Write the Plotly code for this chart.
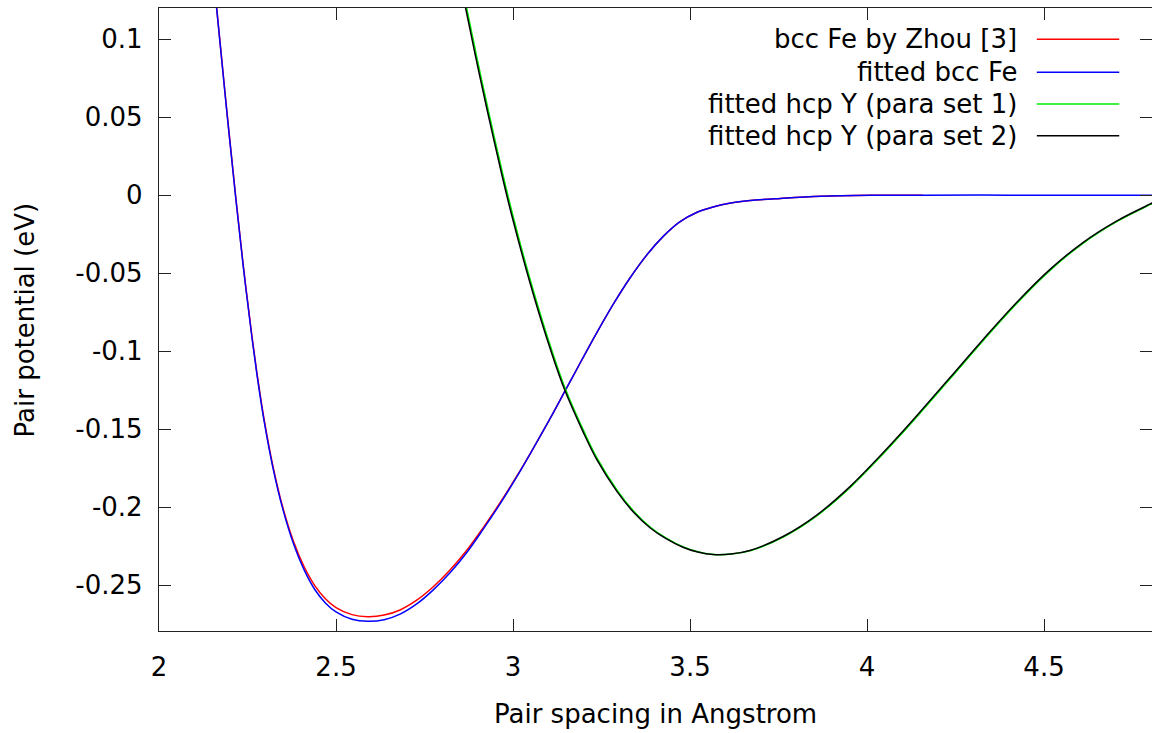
import plotly.graph_objects as go

# ---- data ----
bcc_zhou_x = [2.161, 2.189, 2.217, 2.240, 2.263, 2.280, 2.297, 2.322, 2.350, 2.380,
              2.410, 2.441, 2.470, 2.500, 2.545, 2.590, 2.636, 2.681, 2.729, 2.774,
              2.822, 2.870, 2.915, 2.963, 3.011, 3.056, 3.105, 3.150, 3.195, 3.240,
              3.285, 3.330, 3.380, 3.425, 3.470, 3.520, 3.565, 3.615, 3.685, 3.755,
              3.870, 4.010, 4.158]
bcc_zhou_y = [0.1243, 0.0599, -0.0017, -0.0488, -0.0913, -0.1193, -0.1439, -0.1739, -0.2005, -0.2221,
              -0.2383, -0.2507, -0.2588, -0.2645, -0.2690, -0.2703, -0.2693, -0.2660, -0.2596, -0.2513,
              -0.2404, -0.2276, -0.2135, -0.1974, -0.1801, -0.1628, -0.1432, -0.1243, -0.1054, -0.0869,
              -0.0693, -0.0533, -0.0378, -0.0263, -0.0173, -0.0110, -0.0076, -0.0051, -0.0032, -0.0021,
              -0.0007, -0.0001, 0.0000]

bcc_fit_x = [2.161, 2.189, 2.217, 2.240, 2.263, 2.280, 2.297, 2.322, 2.350, 2.380,
             2.410, 2.441, 2.470, 2.500, 2.545, 2.590, 2.636, 2.681, 2.729, 2.774,
             2.822, 2.870, 2.915, 2.963, 3.011, 3.056, 3.105, 3.150, 3.195, 3.240,
             3.285, 3.330, 3.380, 3.425, 3.470, 3.520, 3.565, 3.615, 3.685, 3.755,
             3.870, 4.010, 4.158, 4.400, 4.650, 4.810]
bcc_fit_y = [0.1240, 0.0594, -0.0023, -0.0495, -0.0921, -0.1202, -0.1449, -0.1750, -0.2015, -0.2236,
             -0.2403, -0.2532, -0.2615, -0.2673, -0.2720, -0.2733, -0.2723, -0.2687, -0.2620, -0.2533,
             -0.2422, -0.2290, -0.2145, -0.1981, -0.1805, -0.1629, -0.1432, -0.1243, -0.1054, -0.0869,
             -0.0693, -0.0533, -0.0378, -0.0263, -0.0173, -0.0110, -0.0076, -0.0051, -0.0032, -0.0021,
             -0.0007, -0.0001, 0.0000, 0.0000, 0.0000, 0.0000]

hcp_set1_x = [2.867, 2.898, 2.930, 2.972, 3.000, 3.051, 3.098, 3.147, 3.201, 3.239,
              3.296, 3.343, 3.390, 3.433, 3.483, 3.525, 3.568, 3.618, 3.672, 3.766,
              3.862, 3.955, 4.031, 4.096, 4.144, 4.237, 4.331, 4.427, 4.520, 4.613,
              4.709, 4.802, 4.813]
hcp_set1_y = [0.1223, 0.0882, 0.0546, 0.0126, -0.0134, -0.0562, -0.0914, -0.1237, -0.1518, -0.1693,
              -0.1898, -0.2032, -0.2133, -0.2200, -0.2258, -0.2289, -0.2305, -0.2302, -0.2279, -0.2189,
              -0.2050, -0.1869, -0.1694, -0.1535, -0.1413, -0.1171, -0.0925, -0.0685, -0.0476, -0.0304,
              -0.0165, -0.0058, -0.0046]

hcp_set2_x = [2.864, 2.895, 2.927, 2.969, 2.997, 3.048, 3.095, 3.144, 3.198, 3.236,
              3.293, 3.340, 3.387, 3.430, 3.480, 3.522, 3.565, 3.615, 3.669, 3.763,
              3.859, 3.952, 4.028, 4.093, 4.141, 4.234, 4.328, 4.424, 4.517, 4.610,
              4.706, 4.799, 4.810]
hcp_set2_y = [0.1223, 0.0882, 0.0546, 0.0126, -0.0134, -0.0562, -0.0914, -0.1237, -0.1518, -0.1693,
              -0.1898, -0.2032, -0.2133, -0.2200, -0.2258, -0.2289, -0.2305, -0.2302, -0.2279, -0.2189,
              -0.2050, -0.1869, -0.1694, -0.1535, -0.1413, -0.1171, -0.0925, -0.0685, -0.0476, -0.0304,
              -0.0165, -0.0058, -0.0046]

series_names = ["bcc Fe by Zhou [3]", "fitted bcc Fe",
                "fitted hcp Y (para set 1)", "fitted hcp Y (para set 2)"]
series_colors = ["#ff0000", "#0000ff", "#00ee00", "#000000"]

x_tick_vals = [2, 2.5, 3, 3.5, 4, 4.5]
x_tick_text = ["2", "2.5", "3", "3.5", "4", "4.5"]
y_tick_vals = [0.1, 0.05, 0, -0.05, -0.1, -0.15, -0.2, -0.25]
y_tick_text = ["0.1", "0.05", "0", "-0.05", "-0.1", "-0.15", "-0.2", "-0.25"]

x_title = "Pair spacing in Angstrom"
y_title = "Pair potential (eV)"

FONT = "DejaVu Sans"
FS = 26

fig = go.Figure()
all_x = [bcc_zhou_x, bcc_fit_x, hcp_set1_x, hcp_set2_x]
all_y = [bcc_zhou_y, bcc_fit_y, hcp_set1_y, hcp_set2_y]
for xs, ys, name, col in zip(all_x, all_y, series_names, series_colors):
    fig.add_trace(go.Scatter(x=xs, y=ys, mode="lines", name=name,
                             line=dict(color=col, width=1.5, shape="spline", smoothing=1.0),
                             showlegend=False))

# manual legend (gnuplot style: text left, sample line right)
leg_y = [0.950, 0.897, 0.846, 0.795]
for name, col, ly in zip(series_names, series_colors, leg_y):
    fig.add_annotation(x=0.866, y=ly, xref="paper", yref="paper", text=name,
                       showarrow=False, xanchor="right", yanchor="middle",
                       font=dict(family=FONT, size=FS, color="black"))
    fig.add_shape(type="line", xref="paper", yref="paper", x0=0.884, x1=0.967,
                  y0=ly, y1=ly, line=dict(color=col, width=1.5))

fig.add_annotation(x=0.5, y=-0.133, xref="paper", yref="paper", text=x_title,
                   showarrow=False, xanchor="center", yanchor="middle",
                   font=dict(family=FONT, size=FS, color="black"))
fig.add_annotation(x=-0.135, y=0.5, xref="paper", yref="paper", text=y_title,
                   showarrow=False, xanchor="center", yanchor="middle", textangle=-90,
                   font=dict(family=FONT, size=FS, color="black"))

axis_common = dict(showgrid=False, zeroline=False, showline=True, linecolor="#222222",
                   linewidth=1.3, mirror="ticks", ticks="inside", ticklen=12,
                   tickcolor="#222222", tickwidth=1.3,
                   tickfont=dict(family=FONT, size=FS, color="black"))

fig.update_xaxes(range=[2, 4.805], tickvals=x_tick_vals, ticktext=x_tick_text,
                 ticklabelstandoff=13, **axis_common)
fig.update_yaxes(range=[-0.2795, 0.12], tickvals=y_tick_vals, ticktext=y_tick_text,
                 ticklabelstandoff=10, **axis_common)

fig.update_layout(width=1152, height=733, plot_bgcolor="white", paper_bgcolor="white",
                  margin=dict(l=159, r=0, t=8, b=102, autoexpand=False),
                  font=dict(family=FONT, size=FS, color="black"))

fig.write_html("out.html")
